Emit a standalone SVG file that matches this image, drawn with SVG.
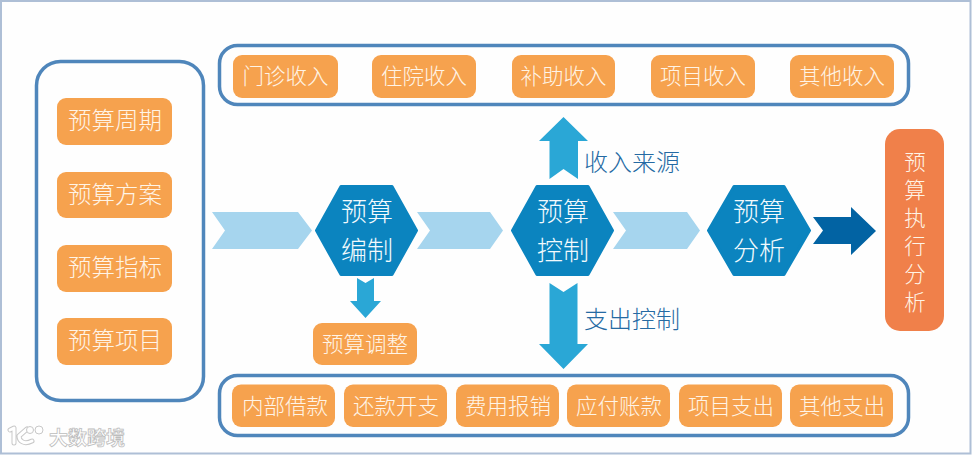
<svg xmlns="http://www.w3.org/2000/svg" width="972" height="455" viewBox="0 0 972 455">
<style>
text{font-family:"Noto Sans CJK SC","Noto Sans",sans-serif;text-anchor:middle;dominant-baseline:central}
.panel{fill:none;stroke:#4f86bb;stroke-width:3.5}
.box{fill:#f6a24e}
.bt{fill:#fff4e6;font-weight:300}
.l{font-size:23.500px}
.t{font-size:21.500px}
.hex{fill:#0b84bf;stroke:#0b84bf;stroke-width:3;stroke-linejoin:round}
.ht{fill:#f2fafd;font-size:26px;font-weight:300}
.chev{fill:#a6d5ee}
.arr{fill:#2aa7d6}
.lab{fill:#256aa3;font-size:24px;font-weight:300}
.wl{fill:none;stroke-linecap:round;stroke-linejoin:round}
</style>
<rect x="0" y="0" width="972" height="455" fill="#fefefe"/>
<rect x="1" y="1" width="969.500" height="452.500" fill="none" stroke="#aebfd6" stroke-width="2"/>
<g id="connectors">
<polygon class="chev" points="212,212 298,212 312,230.500 298,249 212,249 225,230.500"/>
<polygon class="chev" points="417,212 490,212 503,230.500 490,249 417,249 430,230.500"/>
<polygon class="chev" points="613,212 687,212 700,230.500 687,249 613,249 626,230.500"/>
<polygon fill="#0263a3" points="813,217 851,217 851,207 876,231 851,255 851,244 813,244 823,230.500"/>
<polygon class="arr" points="563.500,117 588,141 578,141 578,179 563.500,169 549.500,179 549.500,141 539,141"/>
<polygon class="arr" points="563.500,369 588,344 577.500,344 577.500,283 563.500,292 549.500,283 549.500,344 539,344"/>
<polygon class="arr" points="365.500,318 381,301 374,301 374,278 365.500,283 357,278 357,301 350,301"/>
</g>
<g id="left-panel"><rect class="panel" x="36.500" y="61.500" width="167" height="339" rx="24"/></g>
<g id="n-zhouqi"><rect class="box" x="57" y="98" width="115" height="47" rx="9"/><text class="bt l" x="115" y="119">预算周期</text></g>
<g id="n-fangan"><rect class="box" x="57" y="172" width="115" height="46" rx="9"/><text class="bt l" x="115" y="193">预算方案</text></g>
<g id="n-zhibiao"><rect class="box" x="57" y="245" width="115" height="47" rx="9"/><text class="bt l" x="115" y="266">预算指标</text></g>
<g id="n-xiangmu"><rect class="box" x="57" y="318" width="115" height="47" rx="9"/><text class="bt l" x="115" y="339">预算项目</text></g>
<g id="top-panel"><rect class="panel" x="219.500" y="45.500" width="689" height="59" rx="18"/></g>
<g id="n-menzhen"><rect class="box" x="233" y="55" width="105" height="43" rx="9"/><text class="bt t" x="285.500" y="74.500">门诊收入</text></g>
<g id="n-zhuyuan"><rect class="box" x="372" y="55" width="104" height="43" rx="9"/><text class="bt t" x="424" y="74.500">住院收入</text></g>
<g id="n-buzhu"><rect class="box" x="512" y="55" width="103" height="43" rx="9"/><text class="bt t" x="563.500" y="74.500">补助收入</text></g>
<g id="n-xmsr"><rect class="box" x="651" y="55" width="104" height="43" rx="9"/><text class="bt t" x="703" y="74.500">项目收入</text></g>
<g id="n-qtsr"><rect class="box" x="790" y="55" width="104" height="43" rx="9"/><text class="bt t" x="842" y="74.500">其他收入</text></g>
<g id="bottom-panel"><rect class="panel" x="219.500" y="375.500" width="689" height="60" rx="18"/></g>
<g id="n-jiekuan"><rect class="box" x="232" y="384.500" width="103" height="42.500" rx="9"/><text class="bt t" x="285" y="404.500">内部借款</text></g>
<g id="n-huankuan"><rect class="box" x="344" y="384.500" width="103" height="42.500" rx="9"/><text class="bt t" x="396" y="404.500">还款开支</text></g>
<g id="n-baoxiao"><rect class="box" x="456" y="384.500" width="103" height="42.500" rx="9"/><text class="bt t" x="508" y="404.500">费用报销</text></g>
<g id="n-zhangkuan"><rect class="box" x="567" y="384.500" width="103" height="42.500" rx="9"/><text class="bt t" x="619" y="404.500">应付账款</text></g>
<g id="n-xmzc"><rect class="box" x="679" y="384.500" width="103" height="42.500" rx="9"/><text class="bt t" x="731" y="404.500">项目支出</text></g>
<g id="n-qtzc"><rect class="box" x="790" y="384.500" width="103" height="42.500" rx="9"/><text class="bt t" x="842" y="404.500">其他支出</text></g>
<g id="n-bianzhi"><polygon class="hex" points="341,186.500 392,186.500 416.500,230.500 392,274.500 341,274.500 316.500,230.500"/><text class="ht" x="367" y="209">预算</text><text class="ht" x="367" y="248">编制</text></g>
<g id="n-kongzhi"><polygon class="hex" points="537,186.500 588,186.500 612.500,230.500 588,274.500 537,274.500 512.500,230.500"/><text class="ht" x="563" y="209">预算</text><text class="ht" x="563" y="248">控制</text></g>
<g id="n-fenxi"><polygon class="hex" points="734,186.500 784,186.500 809.500,230.500 784,274.500 734,274.500 708.500,230.500"/><text class="ht" x="759" y="209">预算</text><text class="ht" x="759" y="248">分析</text></g>
<g id="n-tiaozheng"><rect class="box" x="313" y="323" width="104" height="42" rx="9"/><text class="bt t" x="365" y="342">预算调整</text></g>
<g id="n-zhixing"><rect fill="#f0804a" x="885" y="129" width="59" height="202" rx="15"/>
<text class="bt t" x="915"><tspan x="915" y="160">预</tspan><tspan x="915" y="188">算</tspan><tspan x="915" y="216">执</tspan><tspan x="915" y="244">行</tspan><tspan x="915" y="272">分</tspan><tspan x="915" y="300">析</tspan></text></g>
<text class="lab" x="632" y="160.500">收入来源</text>
<text class="lab" x="632" y="317">支出控制</text>
<g id="watermark">
<path class="wl" stroke="#c8c8c8" stroke-width="5" d="M10 430 L14 428 L14 443 M27 429 L19 436 C19 441 24 445 32 441"/>
<path class="wl" stroke="#fff" stroke-width="3" d="M10 430 L14 428 L14 443 M27 429 L19 436 C19 441 24 445 32 441"/>
<circle cx="30" cy="430" r="3.500" fill="#fff" stroke="#c8c8c8"/><circle cx="39" cy="430" r="4" fill="#fff" stroke="#c8c8c8"/>
<text x="87" y="436" font-size="19" fill="#fff" stroke="#bdbdbd" stroke-width="0.800" font-weight="700">大数跨境</text>
</g>
</svg>
